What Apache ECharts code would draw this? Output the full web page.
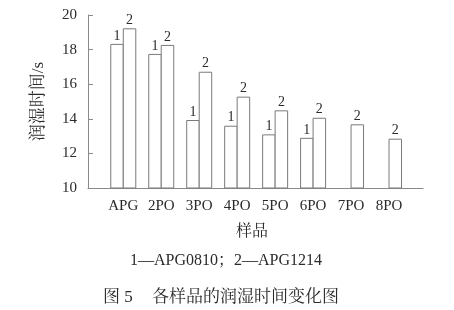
<!DOCTYPE html>
<html>
<head>
<meta charset="utf-8">
<script src="https://cdn.jsdelivr.net/npm/echarts@6/dist/echarts.min.js"></script>
<style>html,body{margin:0;padding:0;background:#fff;}#c{width:454px;height:310px;}</style>
</head>
<body>
<div id="c"></div>
<script>
var categories = ['APG', '2PO', '3PO', '4PO', '5PO', '6PO', '7PO', '8PO'];
var seriesNames = ['APG0810', 'APG1214'];
var apg0810 = [18.33, 17.75, 13.93, 13.6, 13.1, 12.9, null, null];
var apg1214 = [19.23, 18.27, 16.72, 15.28, 14.49, 14.06, 13.68, 12.85];
var yTicks = [10, 12, 14, 16, 18, 20];

var SERIF = "'Liberation Serif', 'Noto Serif CJK SC', 'Noto Sans CJK SC', serif";
var TXT = '#2a2a2a';
var LINE = '#8a8a8a';

var chart = echarts.init(document.getElementById('c'), null, {renderer: 'canvas'});
function barSeries(name, data, tag) {
  return {
    name: name, type: 'bar', xAxisIndex: 1, yAxisIndex: 1,
    data: data, barWidth: 13.5, barGap: '-7.4%',
    itemStyle: {color: '#fff', borderColor: '#7a7a7a', borderWidth: 1},
    label: {show: true, position: 'top', distance: 1, formatter: tag,
      fontFamily: SERIF, fontSize: 14, color: TXT},
    emphasis: {disabled: true}, animation: false
  };
}
chart.setOption({
  animation: false,
  grid: [
    {left: 88, top: 15, width: 335, height: 173},
    {left: 104.3, top: 15, width: 303.7, height: 173}
  ],
  xAxis: [
    {gridIndex: 0, type: 'value', min: 0, max: 1, axisLine: {show: true, lineStyle: {color: LINE}},
     axisTick: {show: false}, axisLabel: {show: false}, splitLine: {show: false}},
    {gridIndex: 1, type: 'category', data: categories, axisLine: {show: false}, axisTick: {show: false},
     axisLabel: {interval: 0, margin: 11, fontFamily: SERIF, fontSize: 15, color: TXT},
     splitLine: {show: false}}
  ],
  yAxis: [
    {gridIndex: 0, type: 'value', min: yTicks[0], max: yTicks[yTicks.length - 1], interval: 2,
     axisLine: {show: true, lineStyle: {color: LINE}},
     axisTick: {show: true, inside: true, length: 5, lineStyle: {color: LINE}},
     axisLabel: {margin: 11, fontFamily: SERIF, fontSize: 15, color: TXT},
     splitLine: {show: false},
     name: '润湿时间/s', nameLocation: 'middle', nameGap: 41, nameRotate: 90,
     nameTextStyle: {fontFamily: SERIF, fontSize: 17, color: TXT}},
    {gridIndex: 1, type: 'value', min: yTicks[0], max: yTicks[yTicks.length - 1], show: false}
  ],
  series: [
    barSeries(seriesNames[0], apg0810, '1'),
    barSeries(seriesNames[1], apg1214, '2')
  ],
  graphic: [
    {type: 'text', style: {text: '样品', x: 252, y: 232, align: 'center', verticalAlign: 'middle',
      font: '16px ' + SERIF, fill: TXT}},
    {type: 'text', style: {text: '1—APG0810；2—APG1214', x: 226, y: 261, align: 'center', verticalAlign: 'middle',
      font: '16px ' + SERIF, fill: TXT}},
    {type: 'text', style: {text: '图 5', x: 103, y: 298, align: 'left', verticalAlign: 'middle',
      font: '17px ' + SERIF, fill: TXT}},
    {type: 'text', style: {text: '各样品的润湿时间变化图', x: 152, y: 298, align: 'left', verticalAlign: 'middle',
      font: '17px ' + SERIF, fill: TXT}}
  ]
});
</script>
</body>
</html>
